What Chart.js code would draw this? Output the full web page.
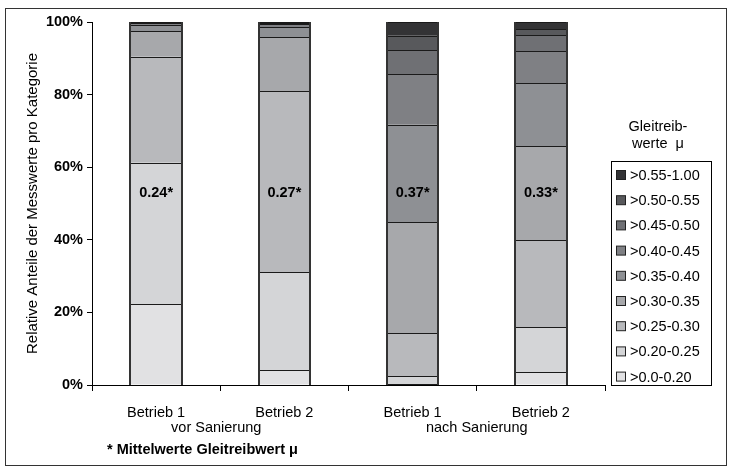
<!DOCTYPE html>
<html>
<head>
<meta charset="utf-8">
<script src="https://cdn.jsdelivr.net/npm/chart.js@4.4.0/dist/chart.umd.min.js"></script>
<style>
  html, body { margin: 0; padding: 0; background: #fff; }
  #wrap { width: 732px; height: 471px; position: relative; }
</style>
</head>
<body>
<div id="wrap"><canvas id="chart" width="732" height="471"></canvas></div>
<script>
// --- Daten (Anteile in %) ---
const categories = ['Betrieb 1', 'Betrieb 2', 'Betrieb 1', 'Betrieb 2'];
const groupLabels = ['vor Sanierung', 'nach Sanierung'];
const meanLabels = ['0.24*', '0.27*', '0.37*', '0.33*'];
const classNames = ['>0.0-0.20', '>0.20-0.25', '>0.25-0.30', '>0.30-0.35', '>0.35-0.40',
                    '>0.40-0.45', '>0.45-0.50', '>0.50-0.55', '>0.55-1.00'];
const yTicks = [0, 20, 40, 60, 80, 100];

const v000_020 = [22.2, 4.1, 0.3, 3.5];
const v020_025 = [39.0, 27.0, 2.1, 12.4];
const v025_030 = [29.2, 49.8, 11.8, 24.0];
const v030_035 = [7.1, 14.9, 30.7, 25.9];
const v035_040 = [1.7, 2.8, 26.8, 17.3];
const v040_045 = [0.4, 0.8, 13.9, 8.9];
const v045_050 = [0.2, 0.3, 6.7, 4.3];
const v050_055 = [0.1, 0.2, 3.9, 1.8];
const v055_100 = [0.1, 0.1, 3.8, 1.9];

const seriesValues = [v000_020, v020_025, v025_030, v030_035, v035_040,
                      v040_045, v045_050, v050_055, v055_100];
const colors = ['#e1e1e3', '#d4d5d7', '#b8b9bc', '#a7a8ab', '#8e9094',
                '#7f8084', '#6f7074', '#58595c', '#333335'];

const FONT = 'Liberation Sans, Arial, sans-serif';
const FS = 14.5;

// Segmentlinien: an den Balken-Elementen der Bibliothek ausgerichtet
const outlinePlugin = {
    id: 'outline',
    afterDatasetsDraw(chart) {
        const ctx = chart.ctx;
        ctx.save();
        ctx.strokeStyle = '#1a1a1a';
        const n = chart.data.datasets.length;
        for (let d = 0; d < n; d++) {
            chart.getDatasetMeta(d).data.forEach(bar => {
                const l = Math.round(bar.x - bar.width / 2);
                const r = Math.round(bar.x + bar.width / 2);
                const t = Math.round(bar.y) + 0.5;
                ctx.lineWidth = 1;
                ctx.beginPath();
                ctx.moveTo(l, t);
                ctx.lineTo(r, t);
                ctx.stroke();
            });
        }
        // Seitenkanten der ganzen Säule
        const top = chart.getDatasetMeta(n - 1).data;
        top.forEach((bar, i) => {
            const l = Math.round(bar.x - bar.width / 2);
            const r = Math.round(bar.x + bar.width / 2);
            const t = Math.round(bar.y);
            const b = Math.round(chart.getDatasetMeta(0).data[i].base);
            ctx.strokeStyle = '#333';
            ctx.lineWidth = 2;
            ctx.beginPath();
            ctx.moveTo(l, t);
            ctx.lineTo(l, b);
            ctx.moveTo(r, t);
            ctx.lineTo(r, b);
            ctx.stroke();
        });
        ctx.restore();
    }
};

// Mittelwerte, Gruppenbeschriftung, Legende und Rahmen
const extrasPlugin = {
    id: 'extras',
    afterDraw(chart) {
        const ctx = chart.ctx;
        const x = chart.scales.x;
        const y = chart.scales.y;
        ctx.save();

        // Mittelwerte in den Balken
        ctx.fillStyle = '#000';
        ctx.font = 'bold ' + FS + 'px ' + FONT;
        ctx.textAlign = 'center';
        ctx.textBaseline = 'middle';
        meanLabels.forEach((t, i) => {
            ctx.fillText(t, x.getPixelForValue(i), y.getPixelForValue(53));
        });

        // zweite Zeile der Kategorien
        ctx.font = FS + 'px ' + FONT;
        groupLabels.forEach((t, g) => {
            const cx = (x.getPixelForValue(g * 2) + x.getPixelForValue(g * 2 + 1)) / 2;
            ctx.fillText(t, cx - (g === 0 ? 4 : 0), 428);
        });

        // Fußnote
        ctx.font = 'bold ' + FS + 'px ' + FONT;
        ctx.textAlign = 'left';
        ctx.fillText('* Mittelwerte Gleitreibwert \u03bc', 107, 450);

        // Legende
        ctx.textAlign = 'center';
        ctx.font = FS + 'px ' + FONT;
        ctx.fillText('Gleitreib-', 658, 127);
        ctx.fillText('werte  \u03bc', 658, 144);
        ctx.lineWidth = 1;
        ctx.strokeStyle = '#000';
        ctx.strokeRect(611.5, 161.5, 100, 224);
        ctx.textAlign = 'left';
        for (let k = 0; k < classNames.length; k++) {
            const idx = classNames.length - 1 - k;
            const cy = 175 + k * 25.2;
            ctx.fillStyle = colors[idx];
            ctx.fillRect(616.5, cy - 4.5, 9, 9);
            ctx.strokeStyle = '#222';
            ctx.strokeRect(616.5, cy - 4.5, 9, 9);
            ctx.fillStyle = '#000';
            ctx.fillText(classNames[idx], 630, cy + 1);
        }

        // äußerer Rahmen
        ctx.strokeStyle = '#333';
        ctx.strokeRect(5.5, 8.5, 721, 457);
        ctx.restore();
    }
};

const datasets = seriesValues.map((vals, i) => ({
    label: classNames[i],
    data: vals,
    backgroundColor: colors[i],
    borderWidth: 0,
    inflateAmount: 0,
    categoryPercentage: 1.0,
    barPercentage: 0.4
}));

new Chart(document.getElementById('chart').getContext('2d'), {
    type: 'bar',
    data: { labels: categories, datasets: datasets },
    plugins: [outlinePlugin, extrasPlugin],
    options: {
        responsive: false,
        devicePixelRatio: 1,
        animation: false,
        layout: { padding: { left: 22, right: 127, top: 22, bottom: 0 } },
        plugins: {
            legend: { display: false },
            tooltip: { enabled: false }
        },
        scales: {
            x: {
                stacked: true,
                afterFit: (s) => { s.height = 86; },
                border: { color: '#000', width: 1 },
                grid: { display: true, offset: true, drawOnChartArea: false, tickLength: 6, color: '#000' },
                ticks: { color: '#000', font: { family: FONT, size: FS }, padding: 13, maxRotation: 0 }
            },
            y: {
                stacked: true,
                min: 0,
                max: 100,
                afterFit: (s) => { s.width = 70; },
                afterBuildTicks: (s) => { s.ticks = yTicks.map(v => ({ value: v })); },
                border: { color: '#000', width: 1 },
                grid: { display: true, drawOnChartArea: false, tickLength: 5, color: '#000' },
                ticks: {
                    color: '#000',
                    font: { family: FONT, size: FS, weight: 'bold' },
                    padding: 4,
                    callback: (v) => v + '%'
                },
                title: {
                    display: true,
                    text: 'Relative Anteile der Messwerte pro Kategorie',
                    color: '#000',
                    font: { family: FONT, size: 15 },
                    padding: { top: 2, bottom: 0 }
                }
            }
        }
    }
});
</script>
</body>
</html>
